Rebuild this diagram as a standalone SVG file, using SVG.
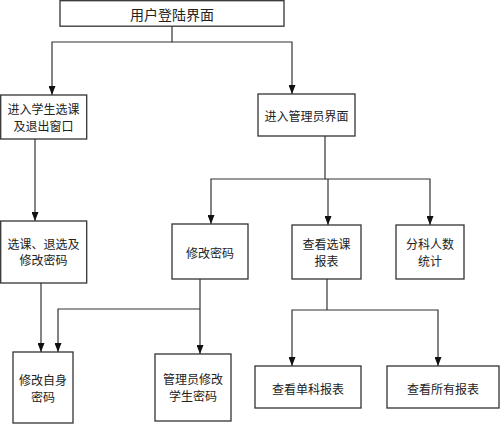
<svg xmlns="http://www.w3.org/2000/svg" width="500" height="424" viewBox="0 0 500 424">
<style>
.box{fill:#fff;stroke:#333;stroke-width:1.3}
.t{font-family:"Noto Sans CJK SC","Noto Sans",sans-serif;font-size:12px;fill:#222;text-anchor:middle;dominant-baseline:central}
.big{font-size:14px}
.c{fill:none;stroke:#333;stroke-width:1.2}
</style>
<defs>
<marker id="ah" viewBox="0 0 9 7" refX="9" refY="3.5" markerWidth="9" markerHeight="7" markerUnits="userSpaceOnUse" orient="auto">
<path d="M0,0 L9,3.5 L0,7 z" fill="#111"/>
</marker>
</defs>
<rect width="500" height="424" fill="#fff"/>
<g id="connectors">
<path class="c" d="M172,26 V42 H52 V95" marker-end="url(#ah)"/>
<path class="c" d="M172,42 H292 V94" marker-end="url(#ah)"/>
<path class="c" d="M35,139 V221" marker-end="url(#ah)"/>
<path class="c" d="M325,136 V179 H211 V224" marker-end="url(#ah)"/>
<path class="c" d="M325,179 H430 V225" marker-end="url(#ah)"/>
<path class="c" d="M328,179 V225" marker-end="url(#ah)"/>
<path class="c" d="M41,283 V352" marker-end="url(#ah)"/>
<path class="c" d="M200,279 V354" marker-end="url(#ah)"/>
<path class="c" d="M200,309 H58 V352" marker-end="url(#ah)"/>
<path class="c" d="M327,279 V310"/>
<path class="c" d="M327,310 H292 V366" marker-end="url(#ah)"/>
<path class="c" d="M327,310 H438 V366" marker-end="url(#ah)"/>
</g>
<g id="n-login"><rect class="box" x="60" y="0.7" width="224" height="25.5"/><text class="t big" x="172" y="13.5">用户登陆界面</text></g>
<g id="n-student"><rect class="box" x="0.7" y="95" width="86" height="44"/><text class="t" x="43.5" y="108.5">进入学生选课</text><text class="t" x="43.5" y="125">及退出窗口</text></g>
<g id="n-admin"><rect class="box" x="258" y="94" width="97" height="42"/><text class="t" x="306.5" y="115">进入管理员界面</text></g>
<g id="n-select"><rect class="box" x="0.7" y="221" width="86" height="62"/><text class="t" x="43.5" y="243.5">选课、退选及</text><text class="t" x="43.5" y="259.5">修改密码</text></g>
<g id="n-pwd"><rect class="box" x="172" y="224" width="76" height="55"/><text class="t" x="210" y="252">修改密码</text></g>
<g id="n-report"><rect class="box" x="292" y="225" width="69" height="54"/><text class="t" x="326.5" y="243.5">查看选课</text><text class="t" x="326.5" y="260">报表</text></g>
<g id="n-stats"><rect class="box" x="396" y="225" width="68" height="54"/><text class="t" x="430" y="243.5">分科人数</text><text class="t" x="430" y="260">统计</text></g>
<g id="n-selfpwd"><rect class="box" x="13" y="352" width="60" height="71"/><text class="t" x="43" y="379.5">修改自身</text><text class="t" x="43" y="396">密码</text></g>
<g id="n-adminpwd"><rect class="box" x="155" y="354" width="76" height="67"/><text class="t" x="193" y="378.5">管理员修改</text><text class="t" x="193" y="395">学生密码</text></g>
<g id="n-single"><rect class="box" x="255" y="366" width="106" height="42"/><text class="t" x="308" y="388">查看单科报表</text></g>
<g id="n-all"><rect class="box" x="387" y="366" width="112" height="42"/><text class="t" x="443" y="388">查看所有报表</text></g>
</svg>
